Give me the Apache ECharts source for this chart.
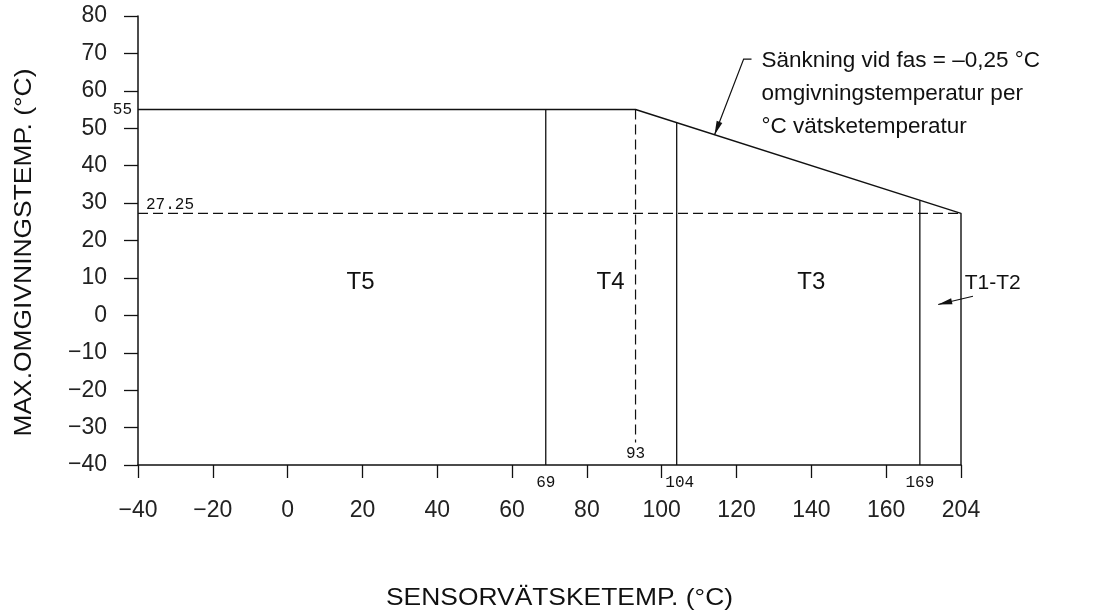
<!DOCTYPE html>
<html><head><meta charset="utf-8">
<script src="https://cdn.jsdelivr.net/npm/echarts@6/dist/echarts.min.js"></script>
<style>html,body{margin:0;padding:0;background:#fff}#c{width:1097px;height:612px}</style>
</head><body><div id="c"></div>
<script>
// ---- data ----
const xTickValues = [-40, -20, 0, 20, 40, 60, 80, 100, 120, 140, 160, 204];
const yMin = -40, yMax = 80, yStep = 10;
const envelopeX = [-40, 93, 204, 204];
const envelopeY = [55, 55, 27.25, -40];
const zoneBoundaries = [69, 104, 169];
const kneeX = 93;
const kneeDashBottom = -34;
const endAmbient = 27.25;
const maxAmbient = 55;
const zoneNames = ['T5', 'T4', 'T3'];
const zoneLabelX = [19.5, 86.3, 140];
const zoneLabelY = 8.9;
const xAxisName = 'SENSORVÄTSKETEMP. (°C)';
const yAxisName = 'MAX.OMGIVNINGSTEMP. (°C)';
const noteLines = ['Sänkning vid fas = –0,25 °C', 'omgivningstemperatur per', '°C vätsketemperatur'];
const noteArrow = [[124, 68.5], [121.9, 68.5], [114.1, 48.2]];
const t12Label = 'T1-T2';
const t12Arrow = [[183.2, 5.1], [173.9, 2.9]];
const t12LabelPos = [181, 8.6];

// drawn axis: last tick (204) sits at the 180 slot (axis is broken after 169)
const drawnEnd = 180, breakAt = 169, realEnd = 204;
function toAxis(v) { return v <= breakAt ? v : breakAt + (v - breakAt) * (drawnEnd - breakAt) / (realEnd - breakAt); }
const minus = s => String(s).replace('-', '\u2212');

const envPts = envelopeX.map((x, i) => [toAxis(x), envelopeY[i]]);
function envAt(ax) {
  for (let i = 0; i < envPts.length - 1; i++) {
    const [x0, y0] = envPts[i], [x1, y1] = envPts[i + 1];
    if (ax >= x0 && ax <= x1 && x1 > x0) return y0 + (y1 - y0) * (ax - x0) / (x1 - x0);
  }
  return envPts[envPts.length - 1][1];
}
const tickLabelMap = {};
xTickValues.forEach(v => { tickLabelMap[toAxis(v).toFixed(3)] = minus(v); });

const black = '#111';
const lineSeries = (data, dashed, w) => ({
  type: 'line', data, symbol: 'none', silent: true, animation: false, clip: false,
  lineStyle: { color: black, width: w || 1.3, type: dashed ? [10, 5] : 'solid' }
});

const series = [
  lineSeries(envPts, false, 1.4),
  lineSeries([[toAxis(-40), endAmbient], [toAxis(realEnd), endAmbient]], true, 1.2),
  lineSeries([[kneeX, maxAmbient], [kneeX, kneeDashBottom]], true, 1.2)
];
zoneBoundaries.forEach(b => {
  const ax = toAxis(b);
  series.push(lineSeries([[ax, envAt(ax)], [ax, yMin]], false, 1.3));
});

const chart = echarts.init(document.getElementById('c'));
const cadFont = 'Liberation Mono, DejaVu Sans Mono, monospace';
const sansFont = 'Liberation Sans, Arial, sans-serif';
const tickFont = { fontFamily: sansFont, fontSize: 23, color: '#222' };
chart.setOption({
  animation: false,
  backgroundColor: '#fff',
  grid: { left: 138, right: 136, top: 16, bottom: 147 },
  xAxis: {
    type: 'value', min: -40, max: drawnEnd, interval: 20,
    axisLine: { onZero: false, lineStyle: { color: black, width: 1.5 } },
    axisTick: { length: 13, lineStyle: { color: black, width: 1.3 } },
    axisLabel: Object.assign({ margin: 34, formatter: v => tickLabelMap[Number(v).toFixed(3)] || minus(v) }, tickFont),
    splitLine: { show: false }
  },
  yAxis: {
    type: 'value', min: yMin, max: yMax, interval: yStep,
    axisLine: { onZero: false, lineStyle: { color: black, width: 1.5 } },
    axisTick: { length: 14, lineStyle: { color: black, width: 1.3 } },
    axisLabel: Object.assign({ margin: 31, formatter: v => minus(v) }, tickFont),
    splitLine: { show: false }
  },
  series
});

const P = (x, y) => chart.convertToPixel({ gridIndex: 0 }, [x, y]);
const g = [];
const txt = (x, y, text, size, align, vAlign, fam, extra) => g.push(Object.assign({
  type: 'text', x, y, silent: true,
  style: { text, fill: '#111', fontSize: size, fontFamily: fam || sansFont, align: align || 'center', verticalAlign: vAlign || 'middle' }
}, extra || {}));
function leader(pts) {
  g.push({ type: 'polyline', silent: true, shape: { points: pts.map(p => P(p[0], p[1])) }, style: { stroke: black, lineWidth: 1.2, fill: null } });
}
function arrowHead(from, to) {
  const a = P(from[0], from[1]), b = P(to[0], to[1]);
  const dx = b[0] - a[0], dy = b[1] - a[1], L = Math.hypot(dx, dy);
  const ux = dx / L, uy = dy / L, len = 14, hw = 3;
  const bx = b[0] - ux * len, by = b[1] - uy * len;
  g.push({ type: 'polygon', silent: true, shape: { points: [[b[0], b[1]], [bx - uy * hw, by + ux * hw], [bx + uy * hw, by - ux * hw]] }, style: { fill: black } });
}
leader(noteArrow);
leader(t12Arrow);
arrowHead(noteArrow[1], noteArrow[2]);
arrowHead(t12Arrow[0], t12Arrow[1]);

// zone names
zoneNames.forEach((n, i) => { const p = P(zoneLabelX[i], zoneLabelY); txt(p[0], p[1], n, 24, 'center', 'middle', sansFont); });
{ const p = P(t12LabelPos[0], t12LabelPos[1]); txt(p[0], p[1], t12Label, 21, 'left', 'middle', sansFont); }
// small value labels
{ const p = P(-40, maxAmbient); txt(p[0] - 6, p[1], String(maxAmbient), 16, 'right', 'middle', cadFont); }
{ const p = P(-40, endAmbient); txt(p[0] + 8, p[1] - 1, String(endAmbient), 16, 'left', 'bottom', cadFont); }
{ const p = P(kneeX, kneeDashBottom); txt(p[0], p[1] + 11, String(kneeX), 16, 'center', 'middle', cadFont); }
zoneBoundaries.forEach(b => {
  const p = P(toAxis(b), yMin);
  const dx = b === 104 ? 3 : 0;
  txt(p[0] + dx, p[1] + 18, String(b), 16, 'center', 'middle', cadFont);
});
// annotation note
{
  const p = P(noteArrow[0][0], noteArrow[0][1]);
  noteLines.forEach((l, i) => txt(p[0] + 10, p[1] + 2 + i * 33, l, 22.5, 'left', 'middle'));
}
// axis names
txt(559.5, 598, xAxisName, 24, 'center', 'middle', sansFont, { scaleX: 1.1 });
txt(24, 252.5, yAxisName, 24, 'center', 'middle', sansFont, { rotation: Math.PI / 2, scaleX: 1.1 });
chart.setOption({ graphic: g });
</script>
</body></html>
